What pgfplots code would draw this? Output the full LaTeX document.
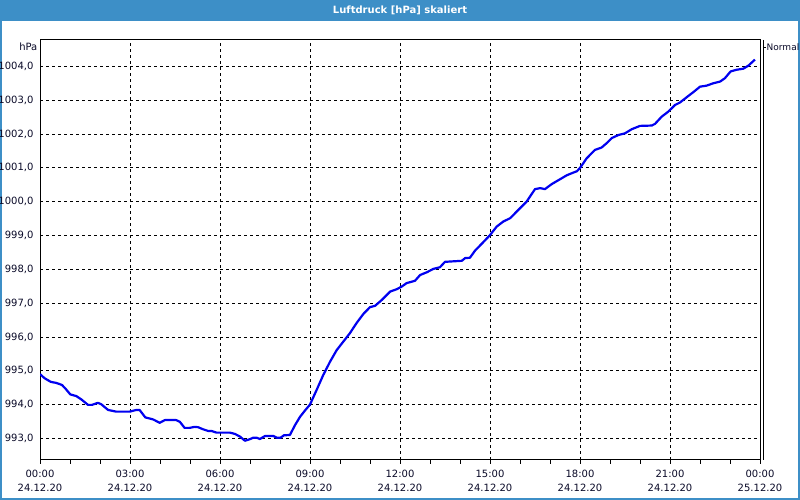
\documentclass[border=0pt]{standalone}
\usepackage{pgfplots}
\pgfplotsset{compat=1.18}
\usepackage{fontspec}
\setmainfont{DejaVu Sans}
\definecolor{barblue}{RGB}{61,143,199}
\definecolor{linecol}{RGB}{0,0,240}
\definecolor{txt}{RGB}{10,10,40}
\pgfplotstableread{
h p
0.00 994.90
0.15 994.78
0.36 994.67
0.54 994.64
0.73 994.58
0.84 994.48
1.01 994.30
1.21 994.25
1.38 994.15
1.60 993.99
1.73 993.99
1.93 994.05
2.04 994.01
2.27 993.84
2.54 993.79
2.99 993.79
3.21 993.84
3.32 993.84
3.51 993.62
3.77 993.56
3.99 993.46
4.16 993.54
4.54 993.54
4.66 993.49
4.82 993.31
4.99 993.31
5.16 993.34
5.27 993.33
5.43 993.27
5.60 993.22
5.71 993.22
5.88 993.17
6.33 993.17
6.50 993.13
6.67 993.05
6.83 992.93
6.98 992.97
7.11 993.02
7.22 993.02
7.33 992.98
7.50 993.07
7.78 993.07
7.89 993.02
8.02 993.02
8.13 993.09
8.33 993.10
8.50 993.39
8.67 993.64
8.83 993.82
9.00 994.00
9.22 994.43
9.44 994.87
9.67 995.27
9.89 995.61
10.11 995.86
10.33 996.11
10.56 996.42
10.78 996.68
11.00 996.88
11.17 996.92
11.39 997.09
11.67 997.34
11.89 997.41
12.06 997.49
12.22 997.59
12.50 997.66
12.67 997.83
12.89 997.91
13.11 998.01
13.33 998.06
13.50 998.22
14.06 998.25
14.17 998.33
14.33 998.34
14.50 998.55
14.72 998.75
15.00 999.01
15.22 999.26
15.44 999.41
15.67 999.51
15.94 999.75
16.22 1000.00
16.50 1000.37
16.67 1000.40
16.83 1000.37
17.06 1000.52
17.33 1000.66
17.56 1000.78
17.78 1000.86
17.90 1000.90
18.02 1001.02
18.22 1001.28
18.50 1001.53
18.72 1001.60
18.89 1001.73
19.06 1001.88
19.28 1001.97
19.50 1002.02
19.72 1002.14
20.00 1002.24
20.39 1002.25
20.50 1002.30
20.72 1002.51
20.94 1002.66
21.17 1002.86
21.33 1002.93
21.56 1003.09
21.78 1003.24
22.00 1003.40
22.22 1003.43
22.44 1003.50
22.67 1003.55
22.83 1003.65
23.02 1003.85
23.22 1003.90
23.44 1003.93
23.61 1004.02
23.83 1004.20
}\pressure
\begin{document}
\begin{tikzpicture}[font=\fontsize{10}{12}\selectfont]
\useasboundingbox (0pt,0pt) rectangle (800pt,500pt);
\fill[white] (0pt,0pt) rectangle (800pt,500pt);
\fill[barblue] (0pt,479pt) rectangle (800pt,500pt);
\fill[barblue] (0pt,0pt) rectangle (2pt,500pt);
\fill[barblue] (798pt,0pt) rectangle (800pt,500pt);
\fill[barblue] (0pt,0pt) rectangle (800pt,2pt);
\node[white,font=\fontsize{10}{12}\selectfont\bfseries] at (400pt,489.5pt) {Luftdruck [hPa] skaliert};
\begin{axis}[
  at={(40pt,40pt)}, anchor=south west,
  scale only axis, width=720pt, height=420pt,
  xmin=0, xmax=24, ymin=992.36, ymax=1004.78,
  xtick={0,3,...,24},
  xticklabels={{00:00\\24.12.20},{03:00\\24.12.20},{06:00\\24.12.20},{09:00\\24.12.20},{12:00\\24.12.20},{15:00\\24.12.20},{18:00\\24.12.20},{21:00\\24.12.20},{00:00\\25.12.20}},
  xticklabel style={align=center, text=txt, font=\fontsize{10}{14}\selectfont, yshift=-3pt},
  minor x tick num=2,
  xtick pos=bottom, tick align=outside,
  major tick length=4pt, minor tick length=4pt,
  x tick style={black, line width=0.8pt},
  ytick={993,994,...,1004},
  ytick style={draw=none},
  yticklabel style={text=txt, xshift=1pt, /pgf/number format/.cd, fixed, fixed zerofill, precision=1, use comma, 1000 sep={}, assume math mode=true},
  grid=major,
  major grid style={black, line width=0.8pt, dash pattern=on 3pt off 3pt},
  axis line style={black, line width=1pt},
  clip=true,
]
\addplot[linecol, line width=2.2pt, line join=round] table[x=h,y=p] {\pressure};
\end{axis}
\node[anchor=east, text=txt, inner sep=0pt] at (37.5pt,453pt) {hPa};
\draw[black, line width=0.8pt] (763.3pt,460pt) -- (763.3pt,40pt);
\draw[black, line width=0.8pt] (763.3pt,453pt) -- (766pt,453pt);
\node[anchor=west, text=txt, inner sep=0pt, font=\fontsize{9}{11}\selectfont] at (766.5pt,453pt) {Normal};
\end{tikzpicture}
\end{document}
